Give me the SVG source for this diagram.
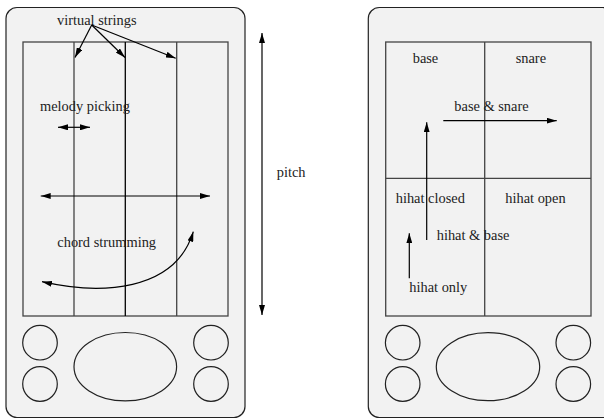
<svg xmlns="http://www.w3.org/2000/svg" width="604" height="419" viewBox="0 0 604 419">
<defs>
<style>
.dev{fill:#f2f2f2;stroke:#222;stroke-width:1.2}
.scr{fill:#f2f2f2;stroke:#444;stroke-width:1.3}
.str{stroke:#444;stroke-width:1.3;fill:none}
.btn{fill:none;stroke:#222;stroke-width:1.2}
.ln{stroke:#000;stroke-width:1.2;fill:none}
text{font-family:"Liberation Serif","Times New Roman",serif;font-size:14.4px;fill:#222}
</style>
<marker id="ah" viewBox="0 0 10 6" refX="10" refY="3" markerWidth="10" markerHeight="6" markerUnits="userSpaceOnUse" orient="auto-start-reverse">
<path d="M0,0 L10,3 L0,6 Z" fill="#000"/>
</marker>
</defs>
<g id="left-device">
<rect class="dev" x="6" y="7.5" width="239" height="410" rx="11"/>
<rect class="scr" x="23" y="42" width="205" height="274"/>
<line class="str" x1="74" y1="42" x2="74" y2="316"/>
<line class="str" x1="125.3" y1="42" x2="125.3" y2="316" style="stroke:#000"/>
<line class="str" x1="176.7" y1="42" x2="176.7" y2="316"/>
<circle class="btn" cx="40" cy="342.7" r="17.3"/>
<circle class="btn" cx="40" cy="384" r="17.3"/>
<circle class="btn" cx="211" cy="342.7" r="17.3"/>
<circle class="btn" cx="211" cy="384" r="17.3"/>
<ellipse class="btn" cx="125.3" cy="366.7" rx="51.3" ry="34.2"/>
</g>
<g id="right-device">
<rect class="dev" x="368.3" y="7.5" width="245" height="410" rx="11"/>
<rect class="scr" x="385.7" y="42" width="205.3" height="274"/>
<line class="str" x1="484.7" y1="42" x2="484.7" y2="316"/>
<line class="str" x1="385.7" y1="178.3" x2="591" y2="178.3"/>
<circle class="btn" cx="402.7" cy="342.7" r="17.3"/>
<circle class="btn" cx="402.7" cy="384" r="17.3"/>
<circle class="btn" cx="573.3" cy="342.7" r="17.3"/>
<circle class="btn" cx="573.3" cy="384" r="17.3"/>
<ellipse class="btn" cx="488" cy="366.7" rx="51.7" ry="34"/>
</g>
<g id="labels">
<text x="57" y="25">virtual strings</text>
<text x="40" y="111">melody picking</text>
<text x="57.3" y="247">chord strumming</text>
<text x="276.7" y="177">pitch</text>
<text x="412.7" y="63">base</text>
<text x="515.7" y="63">snare</text>
<text x="454.3" y="111">base &amp; snare</text>
<text x="395.7" y="203">hihat closed</text>
<text x="505.3" y="203">hihat open</text>
<text x="436.7" y="240">hihat &amp; base</text>
<text x="409.3" y="292">hihat only</text>
</g>
<g id="connectors">
<line class="ln" x1="91.7" y1="25" x2="75" y2="57.5" marker-end="url(#ah)"/>
<line class="ln" x1="91.7" y1="25" x2="125" y2="57.5" marker-end="url(#ah)"/>
<line class="ln" x1="91.7" y1="25" x2="175.7" y2="58.3" marker-end="url(#ah)"/>
<line class="ln" x1="58" y1="127.3" x2="90" y2="127.3" marker-start="url(#ah)" marker-end="url(#ah)"/>
<line class="ln" x1="40.7" y1="196" x2="210" y2="196" marker-start="url(#ah)" marker-end="url(#ah)"/>
<path class="ln" d="M42,281.7 C100,295 175,292 193.3,231.7" marker-start="url(#ah)" marker-end="url(#ah)"/>
<line class="ln" x1="262" y1="33" x2="262" y2="315" marker-start="url(#ah)" marker-end="url(#ah)"/>
<line class="ln" x1="443.3" y1="120.7" x2="556.7" y2="120.7" marker-end="url(#ah)"/>
<line class="ln" x1="426.7" y1="240" x2="426.7" y2="122.3" marker-end="url(#ah)"/>
<line class="ln" x1="409.3" y1="278.3" x2="409.3" y2="233.3" marker-end="url(#ah)"/>
</g>
</svg>
